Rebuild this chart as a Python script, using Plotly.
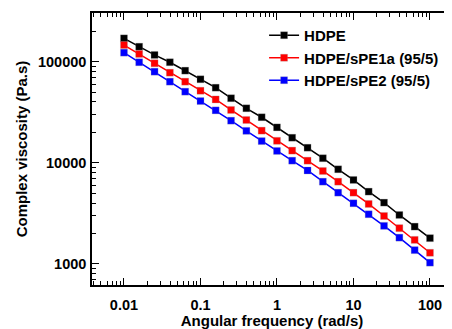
import plotly.graph_objects as go

freq = [0.01, 0.0158, 0.0251, 0.0398, 0.0631, 0.1, 0.158, 0.251, 0.398, 0.631,
        1, 1.58, 2.51, 3.98, 6.31, 10, 15.8, 25.1, 39.8, 63.1, 100]

hdpe = [170000, 140600, 116500, 98700, 81500, 67000, 55300, 43500, 34600, 28200,
        22400, 17700, 14100, 11100, 8630, 6770, 5190, 4040, 3050, 2340, 1800]
spe1a = [146000, 119200, 96400, 77800, 63400, 51600, 42300, 33300, 26500, 20800,
         16500, 13200, 10500, 8300, 6510, 5070, 3920, 2980, 2260, 1730, 1290]
spe2 = [122700, 98600, 79600, 63400, 50500, 40800, 33000, 26100, 20700, 16400,
        13100, 10500, 8400, 6510, 5070, 3980, 3100, 2380, 1820, 1370, 1030]

series_names = ["HDPE", "HDPE/sPE1a (95/5)", "HDPE/sPE2 (95/5)"]
series_values = [hdpe, spe1a, spe2]
series_colors = ["#000000", "#ff0000", "#0000ff"]

x_tickvals = [0.01, 0.1, 1, 10, 100]
x_ticktext = ["0.01", "0.1", "1", "10", "100"]
y_tickvals = [1000, 10000, 100000]
y_ticktext = ["1000", "10000", "100000"]

FONT = "Liberation Sans, Arial, sans-serif"

fig = go.Figure()
for name, vals, col in zip(series_names, series_values, series_colors):
    fig.add_trace(go.Scatter(
        x=freq, y=vals, name=name, mode="lines+markers",
        line=dict(color=col, width=1.5),
        marker=dict(symbol="square", size=7, color=col,
                    line=dict(color="rgba(150,150,150,0.5)", width=0.5)),
    ))

axis_common = dict(
    type="log", showgrid=False, zeroline=False, automargin=False,
    showline=True, linecolor="black", linewidth=1.5,
    ticks="inside", ticklen=7, tickwidth=1.2, tickcolor="black",
    minor=dict(ticks="inside", ticklen=4, tickwidth=1, tickcolor="black",
               showgrid=False, dtick="D1"),
    tickfont=dict(family=FONT, size=14.5, color="black", weight="bold"),
)

fig.update_xaxes(
    **axis_common,
    range=[-2.418, 2.288],
    tickvals=x_tickvals, ticktext=x_ticktext,
    mirror="allticks",
    ticklabelstandoff=6,
    title=dict(text="<b>Angular frequency (rad/s)</b>",
               font=dict(family=FONT, size=15, color="black"), standoff=2),
)
fig.update_yaxes(
    **axis_common,
    range=[2.792, 5.481],
    tickvals=y_tickvals, ticktext=y_ticktext,
    mirror=False,
    ticklabelstandoff=1,
    title=dict(text="<b>Complex viscosity (Pa.s)</b>",
               font=dict(family=FONT, size=15, color="black"), standoff=7),
)

# page body has an 8px default margin; the figure is sized to fill the window
fig.update_layout(
    width=444, height=321,
    margin=dict(l=84, r=0, t=5, b=44, autoexpand=False),
    paper_bgcolor="white", plot_bgcolor="white",
    showlegend=True,
    legend=dict(x=0.478, y=0.978, xanchor="left", yanchor="top",
                bgcolor="rgba(0,0,0,0)", borderwidth=0,
                font=dict(family=FONT, size=15, color="black", weight="bold"),
                tracegroupgap=0, itemwidth=30),
)

fig.write_html("out.html")
